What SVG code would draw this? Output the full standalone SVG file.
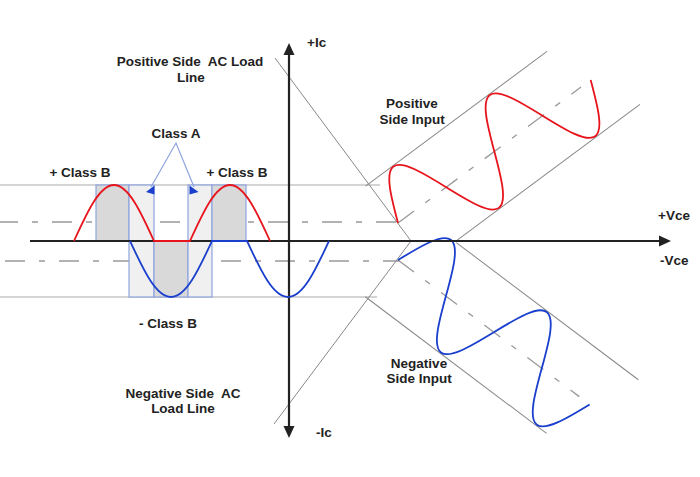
<svg xmlns="http://www.w3.org/2000/svg" width="700" height="477" viewBox="0 0 700 477">
<style>
  .lbl{font-family:"Liberation Sans",Arial,sans-serif;font-weight:bold;font-size:13.5px;fill:#222;white-space:pre}
  .guide{stroke:#aaa;stroke-width:1.2;fill:none}
  .dash{stroke:#999;stroke-width:1.3;fill:none;stroke-dasharray:20 14 6 14}
  .thin{stroke:#888;stroke-width:1;fill:none}
  .axis{stroke:#222;stroke-width:2.2;fill:none}
  .red{stroke:#e8141c;stroke-width:1.8;fill:none}
  .blue{stroke:#1a3fcc;stroke-width:1.8;fill:none}
  .dark{fill:#d9d9d9;stroke:#8ea4e0;stroke-width:1.2}
  .light{fill:#f0f0f0;stroke:#8ea4e0;stroke-width:1.2}
  .ptr{stroke:#8ea4e0;stroke-width:1.2;fill:none}
  .head{fill:#1a3fcc}
</style>
<defs>
  <path id="wave" d="M0,0 C9.78,-24.59 19.14,-48 30,-48 C40.86,-48 50.22,-24.59 60,0 C69.78,24.59 79.14,48 90,48 C100.86,48 110.22,24.59 120,0 C129.78,-24.59 139.14,-48 150,-48 C160.86,-48 170.22,-24.59 180,0 C189.78,24.59 199.14,48 210,48 C220.86,48 230.22,24.59 240,0"/>
</defs>

<g id="guides">
  <line class="guide" x1="0" y1="185" x2="380" y2="185"/>
  <line class="guide" x1="0" y1="297" x2="377" y2="297"/>
  <line class="dash" x1="-2" y1="222" x2="396" y2="222"/>
  <line class="dash" x1="5" y1="261" x2="400" y2="261"/>
</g>

<g id="class-boxes">
  <rect class="dark" x="96" y="185" width="33" height="56"/>
  <rect class="light" x="129" y="185" width="25" height="112"/>
  <rect class="dark" x="154" y="241" width="34" height="56"/>
  <rect class="light" x="188" y="185" width="24" height="112"/>
  <rect class="dark" x="212" y="185" width="34" height="56"/>
</g>

<g id="load-lines">
  <polyline class="thin" points="275,58 411,241 274,424"/>
</g>

<g id="positive-band" transform="translate(398,223) rotate(-36.6)">
  <line class="thin" x1="-4" y1="-49" x2="222" y2="-49"/>
  <line class="thin" x1="37" y1="49" x2="265" y2="49"/>
  <line class="dash" x1="0" y1="0" x2="228" y2="0"/>
  <use href="#wave" class="red"/>
</g>

<g id="negative-band" transform="translate(398,260) rotate(37)">
  <line class="thin" x1="36" y1="-49" x2="264" y2="-49"/>
  <line class="thin" x1="-4" y1="49" x2="223" y2="49"/>
  <line class="dash" x1="0" y1="0" x2="227" y2="0"/>
  <use href="#wave" class="blue"/>
</g>

<g id="axes">
  <line class="axis" x1="30" y1="241" x2="662" y2="241"/>
  <polygon points="671,241 659,235.5 659,246.5" fill="#222"/>
  <line class="axis" x1="289" y1="52" x2="289" y2="429"/>
  <polygon points="289,43 283.5,55 294.5,55" fill="#222"/>
  <polygon points="289,438 283.5,426 294.5,426" fill="#222"/>
</g>

<g id="left-waves">
  <path class="red" d="M74,241 C87.04,212.31 99.52,185 114,185 C128.48,185 140.96,212.31 154,241 L190,241 C203.04,212.31 215.52,185 230,185 C244.48,185 256.96,212.31 270,241"/>
  <path class="blue" d="M130,241 C143.37,269.69 155.84,297 171,297 C186.16,297 198.63,269.69 212,241 L247,241 C260.37,269.69 272.84,297 288,297 C303.16,297 315.63,269.69 329,241"/>
</g>

<g id="class-a-pointer">
  <polyline class="ptr" points="151,187 176,143 194,187"/>
  <polygon class="head" points="146,192 154.5,185.5 154.5,194.5"/>
  <polygon class="head" points="198.5,192 189.5,185.5 189.5,194.5"/>
</g>

<g id="labels">
  <text class="lbl" x="190" y="66" text-anchor="middle">Positive Side  AC Load</text>
  <text class="lbl" x="191" y="82" text-anchor="middle">Line</text>
  <text class="lbl" x="176" y="138" text-anchor="middle">Class A</text>
  <text class="lbl" x="80" y="177" text-anchor="middle">+ Class B</text>
  <text class="lbl" x="237" y="177" text-anchor="middle">+ Class B</text>
  <text class="lbl" x="168" y="328" text-anchor="middle">- Class B</text>
  <text class="lbl" x="183" y="398" text-anchor="middle">Negative Side  AC</text>
  <text class="lbl" x="183" y="413" text-anchor="middle">Load Line</text>
  <text class="lbl" x="307" y="47">+Ic</text>
  <text class="lbl" x="316" y="437">-Ic</text>
  <text class="lbl" x="658" y="220">+Vce</text>
  <text class="lbl" x="660" y="265">-Vce</text>
  <text class="lbl" x="412" y="108" text-anchor="middle">Positive</text>
  <text class="lbl" x="412" y="124" text-anchor="middle">Side Input</text>
  <text class="lbl" x="419" y="368" text-anchor="middle">Negative</text>
  <text class="lbl" x="419" y="383" text-anchor="middle">Side Input</text>
</g>
</svg>
